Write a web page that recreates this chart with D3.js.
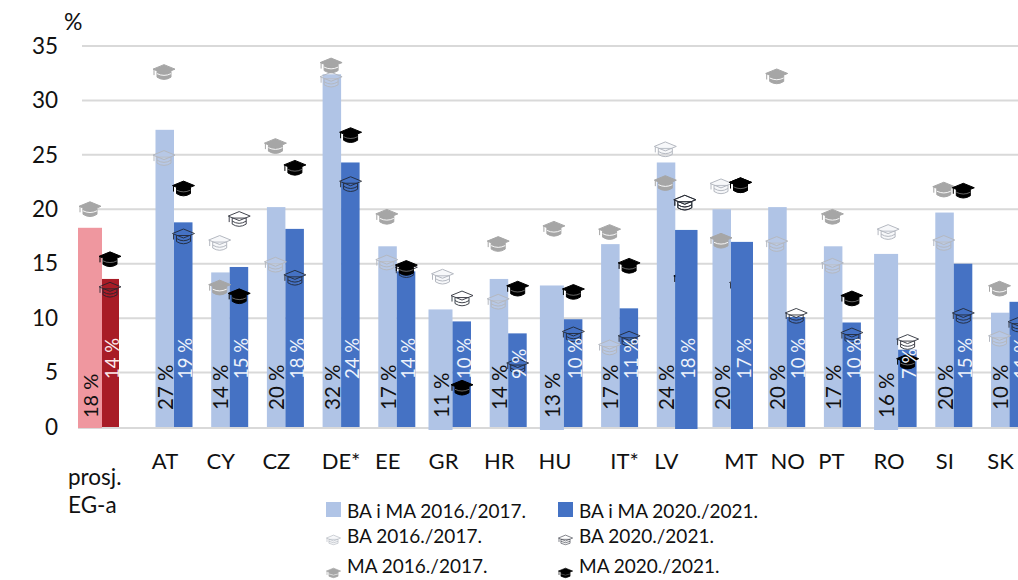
<!DOCTYPE html>
<html><head><meta charset="utf-8">
<script src="https://cdn.jsdelivr.net/npm/d3@7/dist/d3.min.js"></script>
<style>html,body{margin:0;background:#fff}svg{display:block}text{font-family:Lato,"Open Sans",sans-serif}</style>
</head><body><div id="c"></div>
<script>
const categories = ["AT","CY","CZ","DE*","EE","GR","HR","HU","IT*","LV","MT","NO","PT","RO","SI","SK"];
const allLight = [27.3,14.2,20.2,32.4,16.6,10.8,13.6,13.0,16.8,24.3,20.0,20.2,16.6,15.9,19.7,10.5];
const allDark  = [18.8,14.7,18.2,24.3,14.3,9.7,8.6,9.9,10.9,18.1,17.0,10.1,9.6,7.1,15.0,11.5];
const ba2016 = [24.7,16.9,14.9,31.9,15.1,13.8,11.5,null,7.3,25.5,22.1,16.8,14.8,17.9,16.9,8.1];
const ba2020 = [17.5,19.1,13.7,22.3,14.4,11.8,5.6,8.5,8.1,20.6,13.0,10.2,8.4,7.8,10.2,9.4];
const ma2016 = [32.6,12.8,25.8,33.2,19.3,null,16.8,18.2,17.9,22.4,17.1,32.2,19.3,null,21.8,12.7];
const ma2020 = [21.9,12.0,23.8,26.8,14.6,3.6,12.7,12.4,14.8,13.6,22.2,null,11.8,6.0,21.7,null];
const lightLabels = ["27 %","14 %","20 %","32 %","17 %","11 %","14 %","13 %","17 %","24 %","20 %","20 %","17 %","16 %","20 %","10 %"];
const darkLabels  = ["19 %","15 %","18 %","24 %","14 %","10 %","9 %","10 %","11 %","18 %","17 %","10 %","10 %","7 %","15 %","11 %"];
const euName = ["prosj.","EG-a"];
const euBars = [18.3,13.6];
const euLabels = ["18 %","14 %"];
const euMarks = {ma2016:20.0, ma2020:15.4, ba2020:12.6};
const yTicks = [0,5,10,15,20,25,30,35];
const legendRows = [["BA i MA 2016./2017.","BA i MA 2020./2021."],["BA 2016./2017.","BA 2020./2021."],["MA 2016./2017.","MA 2020./2021."]];

// layout
const W=1018,H=580;
const LIGHT="#b0c4e6",DARK="#4472c4",EU1="#ef979f",EU2="#a81c26",GRID="#d9d9d9";
const wideLight=new Set(["GR","HU","RO"]), wideDark=new Set(["LV","MT"]);
const labelShift={"DE*":9,"IT*":14,"MT":19,"NO":10,"PT":-2};
const svg=d3.select("#c").append("svg").attr("width",W).attr("height",H);
const defs=svg.append("defs");
defs.append("clipPath").attr("id","page").append("rect").attr("width",W).attr("height",H);
defs.append("filter").attr("id","soft").append("feGaussianBlur").attr("stdDeviation",0.5);

const y=d3.scaleLinear().domain([0,35]).range([427,46]);
const x=d3.scalePoint().domain(categories).range([174,1009.5]);
const euX=102;

// gridlines + y axis
const yAxis=d3.axisLeft(y).tickValues(yTicks).tickSize(0).tickPadding(0).tickFormat(d3.format("d"));
const axG=svg.append("g").attr("transform","translate(58,0)").call(yAxis);
axG.select(".domain").remove();
axG.selectAll("text").attr("font-size",22.5).attr("fill","#111").style("font-family","Lato");
svg.append("g").attr("filter","url(#soft)").selectAll("line").data(yTicks).join("line")
  .attr("x1",d=>d===0?78:82).attr("x2",W).attr("y1",d=>y(d)+(d===0?1:0)).attr("y2",d=>y(d)+(d===0?1:0))
  .attr("stroke",GRID).attr("stroke-width",2);

const barH=v=>y(0)-y(v);
const lw=c=>wideLight.has(c)?24:18.5, dw=c=>wideDark.has(c)?22:18.5;
const marks=svg.append("g").attr("filter","url(#soft)");

// light bars and ordinary dark bars
marks.selectAll(".l").data(categories).join("rect").attr("class","l")
  .attr("x",c=>x(c)-lw(c)).attr("width",c=>lw(c)).attr("y",(c,i)=>y(allLight[i])).attr("height",(c,i)=>barH(allLight[i])+(wideLight.has(c)?3:0)).attr("fill",LIGHT);
marks.selectAll(".d").data(categories).join("rect").attr("class","d")
  .attr("x",c=>x(c)).attr("width",c=>dw(c)).attr("y",(c,i)=>y(allDark[i])).attr("height",(c,i)=>barH(allDark[i])+(wideDark.has(c)?2:0)).attr("fill",DARK);
marks.append("rect").attr("x",euX-24).attr("width",24).attr("y",y(euBars[0])).attr("height",barH(euBars[0])+1).attr("fill",EU1);
marks.append("rect").attr("x",euX).attr("width",17).attr("y",y(euBars[1])).attr("height",barH(euBars[1])).attr("fill",EU2);

// graduation cap marker
function cap(g,cx,cy,kind,s=1){
  const st={ba16:{f:"#d8dce4",fo:.2,s:"#b4b8c0"},ba20:{f:"none",fo:0,s:"#20242e"},ma16:{f:"#a6a6a6",fo:1,s:"#a6a6a6"},ma20:{f:"#000",fo:1,s:"#000"}}[kind];
  const t=g.append("g").attr("transform",`translate(${cx},${cy}) scale(${s})`).attr("opacity",kind==="ba20"?.85:1);
  const outlined=kind==="ba16"||kind==="ba20";
  t.append("path").attr("d","M-7,-1 L-7,5 Q0,9.5 7,5 L7,-1 Z").attr("fill",st.f).attr("fill-opacity",st.fo).attr("stroke",st.s).attr("stroke-width",1);
  if(outlined) t.append("path").attr("d","M-7,2 Q0,6.5 7,2").attr("fill","none").attr("stroke",st.s).attr("stroke-width",1);
  else t.append("path").attr("d","M-7,1.5 Q0,5 7,1.5").attr("fill","none").attr("stroke","#fff").attr("stroke-width",kind==="ma16"?.9:.4);
  t.append("path").attr("d","M-11,-3 L0,-7.5 L11,-3 L0,1.5 Z").attr("fill",st.f).attr("fill-opacity",st.fo).attr("stroke",st.s).attr("stroke-width",1);
  t.append("path").attr("d","M-10,-2.5 L-10,3").attr("stroke",st.s).attr("stroke-width",1);
}
const ser=[["ba16",ba2016,0],["ma16",ma2016,0],["ba20",ba2020,1],["ma20",ma2020,1]];
ser.forEach(([k,vals,side])=>{
  categories.forEach((c,i)=>{
    if(vals[i]==null) return;
    const cx=side?x(c)+9.5:x(c)-10;
    cap(marks,cx,y(vals[i]),k);
  });
});
cap(marks,90,y(euMarks.ma2016),"ma16");
cap(marks,110,y(euMarks.ma2020),"ma20");
cap(marks,110,y(euMarks.ba2020),"ba20");

// bars that cover their marker: the wide dark bars sit above the caps
marks.selectAll(".w").data(categories.filter(c=>wideDark.has(c))).join("rect").attr("class","w")
  .attr("x",c=>x(c)).attr("width",c=>dw(c)).attr("y",c=>y(allDark[categories.indexOf(c)])).attr("height",c=>barH(allDark[categories.indexOf(c)])+2).attr("fill",DARK);
// caps that lie above those bars again
cap(marks,x("LV")+9.5,y(ba2020[9]),"ba20");
cap(marks,x("MT")+9.5,y(ma2020[10]),"ma20");

// value labels
const lab=svg.append("g").attr("clip-path","url(#page)");
function vlabel(cx,base,txt,fill,size){
  lab.append("text").attr("transform",`translate(${cx},${base}) rotate(-90)`).attr("font-size",size).attr("fill",fill)
    .attr("dominant-baseline","central").attr("text-anchor","start").text(txt);
}
categories.forEach((c,i)=>{
  vlabel(x(c)-lw(c)/2,wideLight.has(c)?418:410,lightLabels[i],"#111",20.5);
  vlabel(x(c)+dw(c)/2+2,379,darkLabels[i],"#eef3fb",18.5);
});
vlabel(90,418,euLabels[0],"#111",20);
vlabel(112,379,euLabels[1],"#fbe9ea",18.5);

// category labels
svg.append("g").selectAll("text").data(categories).join("text")
  .attr("x",c=>x(c)-9+(labelShift[c]||0)).attr("y",469).attr("text-anchor","middle").attr("font-size",22).attr("fill","#111").text(c=>c);
svg.append("g").selectAll("text").data(euName).join("text")
  .attr("x",68).attr("y",(d,i)=>485+i*28).attr("font-size",22.5).attr("fill","#111").text(d=>d);
svg.append("text").attr("x",64).attr("y",30).attr("font-size",23).attr("fill","#111").text("%");

// legend
const legX=[326,558], legY=[518,543,573];
const legKinds=[[null,null],["ba16","ba20"],["ma16","ma20"]];
const leg=svg.append("g");
legendRows.forEach((row,r)=>row.forEach((t,c)=>{
  leg.append("text").attr("x",legX[c]+21).attr("y",legY[r]).attr("font-size",19).attr("fill","#111").text(t);
  if(r===0) leg.append("rect").attr("x",legX[c]).attr("y",502).attr("width",15).attr("height",15).attr("fill",c?DARK:LIGHT);
  else cap(leg,legX[c]+7.5,legY[r]-(r===1?3:-1)+(r===2?-1:0),legKinds[r][c],.65);
}));
</script></body></html>
